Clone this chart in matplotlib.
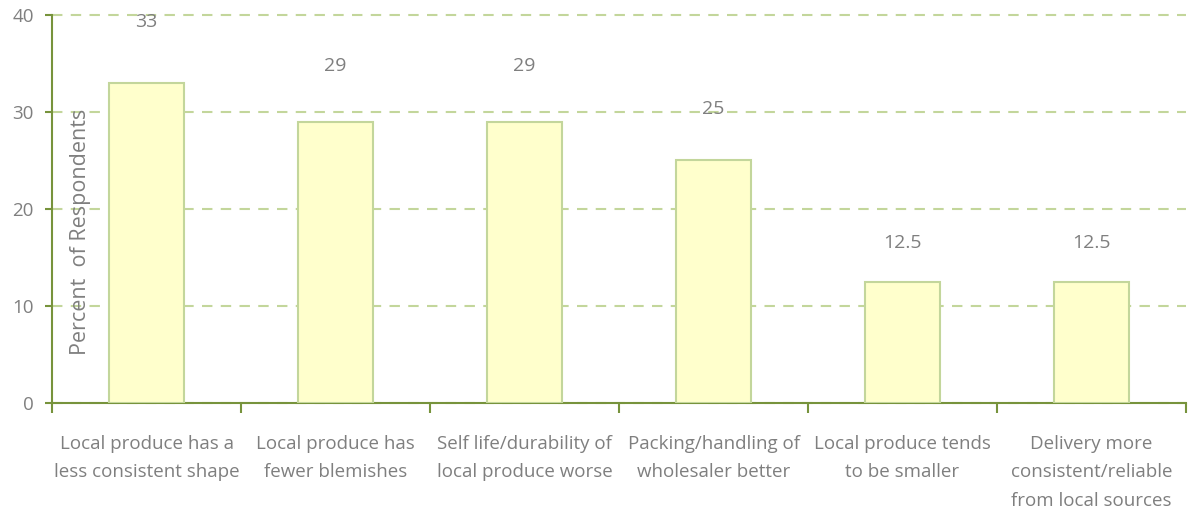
import matplotlib
matplotlib.use("Agg")
import matplotlib.pyplot as plt
import numpy as np

categories = [
    "Local produce has a\nless consistent shape",
    "Local produce has\nfewer blemishes",
    "Self life/durability of\nlocal produce worse",
    "Packing/handling of\nwholesaler better",
    "Local produce tends\nto be smaller",
    "Delivery more\nconsistent/reliable\nfrom local sources",
]
values = [33, 29, 29, 25, 12.5, 12.5]
value_labels = ["33", "29", "29", "25", "12.5", "12.5"]
y_ticks = [0, 10, 20, 30, 40]

AXIS = "#77933c"
GRID = "#c3d69b"
FILL = "#ffffcc"
TEXT = "#7f7f7f"

plt.rcParams["font.family"] = ["Open Sans", "DejaVu Sans"]

fig = plt.figure(figsize=(11.91, 5.14), dpi=100)
ax = fig.add_axes([52 / 1191, 1 - 403 / 514, (1186 - 52) / 1191, (403 - 15) / 514])

x = np.arange(len(values))
ax.bar(x, values, width=0.4, color=FILL, edgecolor=GRID, linewidth=1.5, zorder=3)

for xi, v, lab in zip(x, values, value_labels):
    ax.text(xi, 1.11 * v + 2.6, lab, ha="center", va="center",
            fontsize=14, color=TEXT, zorder=4)

ax.set_xlim(-0.5, len(values) - 0.5)
ax.set_ylim(0, 40)
ax.set_yticks(y_ticks)
ax.set_yticklabels([str(t) for t in y_ticks], fontsize=13.5, color=TEXT)

ax.set_xticks(np.arange(len(values) + 1) - 0.5)
ax.set_xticklabels([])
ax.set_xticks(x, minor=True)
ax.set_xticklabels(categories, minor=True, fontsize=13.5, color=TEXT, va="top",
                   linespacing=1.75)
ax.tick_params(axis="x", which="minor", length=0, pad=23)
ax.tick_params(axis="x", which="major", length=7, width=1.5, color=AXIS, direction="out")
ax.tick_params(axis="y", length=5, width=1.5, color=AXIS, direction="out", pad=8)

ax.yaxis.grid(True, linestyle=(0, (5, 4)), color=GRID, linewidth=1.5, zorder=0)
for gl in ax.get_ygridlines():
    gl.set_clip_on(False)
ax.set_axisbelow(True)

for side in ("top", "right"):
    ax.spines[side].set_visible(False)
for side in ("left", "bottom"):
    ax.spines[side].set_color(AXIS)
    ax.spines[side].set_linewidth(1.5)

ax.text(0.025, 0.44, "Percent  of Respondents", transform=ax.transAxes,
        rotation=90, ha="center", va="center", fontsize=15.5, color=TEXT)

fig.savefig("out.png", dpi=100)
